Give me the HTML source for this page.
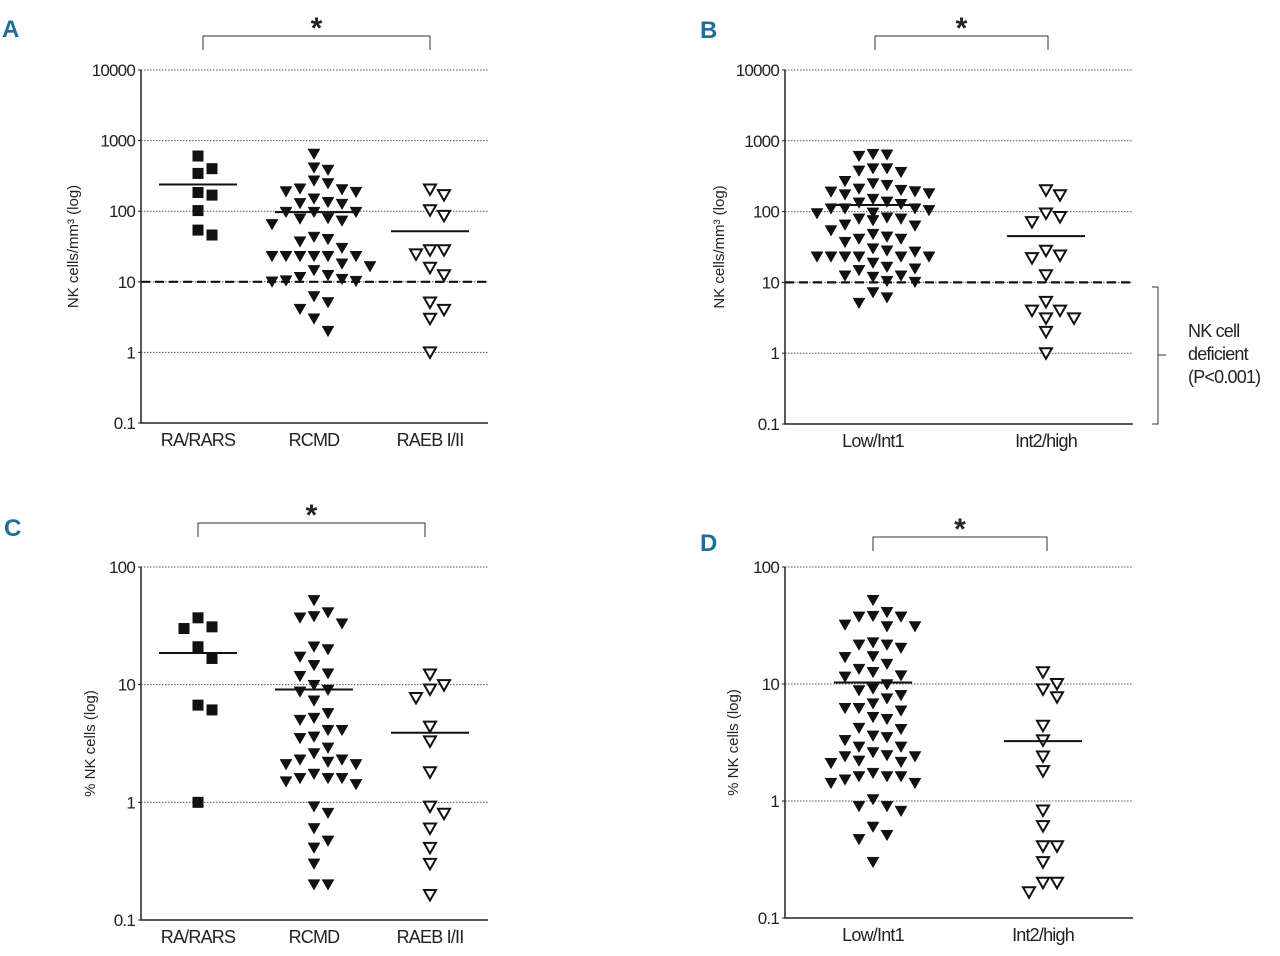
<!DOCTYPE html>
<html><head><meta charset="utf-8"><style>
body{margin:0;background:#fff}
svg{display:block}
text{font-family:"Liberation Sans Narrow","Liberation Sans",sans-serif;fill:#222}
</style></head><body>
<svg id="fig" width="1280" height="956" viewBox="0 0 1280 956"></svg>
<script>
// ---- Data ----
const catsA = ["RA/RARS","RCMD","RAEB I/II"];
const catsB = ["Low/Int1","Int2/high"];
const A_ra = [605,400,343,169,184,102,54,46];
const A_rcmd = [646,383,413,270,247,186,208,203,190,150,134,126,129,97,97,97,78,65,73,79,40,37,43,30,23,23,23,23,23,23,18,16.5,14.5,12.4,11.6,10.9,10.4,10,10.2,6.2,5.1,4.1,3.0,2.0];
const A_raeb = [169,203,103,86,28,24.5,28,15.8,12.4,5.1,4.0,3.0,1.0];
const A_med = [239,97,52];
const B_low = [634,607,647,405,360,376,405,249,236,268,190,174,209,201,192,180,150,137,127,133,110,110,110,96,94,104,82,65,79,75,79,63,54,41,37,44,48,41,28,27,30,23,23,23,23,23,23,14.8,16.5,18.8,15.6,12.4,10.4,10.1,11.9,12.4,7.2,5.1,6.1];
const B_high = [170,200,84,71,94,28,22,24,12.6,5.3,4.0,4.0,3.1,3.1,2.0,1.0];
const B_med = [124,45];
const C_ra = [37,31,30,21,16.7,6.7,6.1,1.0];
const C_rcmd = [52,41,37,38,33,21,17.2,19.9,14.6,12.4,11.8,9.9,8.7,9.0,7.3,5.7,5.0,5.2,4.1,4.1,3.5,3.6,2.9,2.6,2.3,2.2,2.1,2.1,2.3,1.6,1.5,1.74,1.42,1.6,1.6,0.92,0.81,0.60,0.47,0.41,0.30,0.20,0.20];
const C_raeb = [12.2,9.9,9.1,7.7,4.4,3.3,1.8,0.92,0.80,0.60,0.41,0.30,0.163];
const C_med = [18.6,9.1,3.9];
const D_low = [52,37.5,41,37.5,38,32,31,31,21.6,20.3,22.6,21.6,16.9,17.2,14.8,13.4,11.8,11.5,12.6,9.1,8.0,8.8,9.9,7.5,6.8,6.2,5.9,6.2,5.0,5.2,4.1,4.2,3.3,3.5,3.6,2.9,2.9,2.6,2.4,2.2,2.1,2.15,2.4,2.45,1.62,1.62,1.42,1.42,1.52,1.62,1.73,0.90,0.82,0.90,1.03,0.60,0.51,0.47,0.30];
const D_high = [12.6,10,9.0,7.7,4.4,3.3,2.4,1.8,0.83,0.61,0.41,0.41,0.30,0.20,0.20,0.166];
const D_med = [10.3,3.25];
const ticksAB = [10000,1000,100,10,1,0.1];
const ticksCD = [100,10,1,0.1];
const tickLabelsAB = ["10000","1000","100","10","1","0.1"];
const tickLabelsCD = ["100","10","1","0.1"];

const NS="http://www.w3.org/2000/svg";
const svg=document.getElementById('fig');
function mk(tag,attrs,parent){const e=document.createElementNS(NS,tag);for(const k in attrs)e.setAttribute(k,attrs[k]);(parent||svg).appendChild(e);return e;}
function txt(s,attrs,parent){const e=mk('text',attrs,parent);e.textContent=s;return e;}

function panel(cfg){
  const g=mk('g',{});
  
  
  const top=Math.log10(cfg.ticks[0]), bot=Math.log10(cfg.ticks[cfg.ticks.length-1]);
  const y=v=>cfg.y0+(top-Math.log10(v))/(top-bot)*(cfg.y1-cfg.y0);
  cfg.ticks.forEach((t,i)=>{
    const gl=mk('line',{x1:cfg.x0,x2:cfg.x1,y1:y(t),y2:y(t),stroke:'#555','stroke-width':1,'stroke-dasharray':'1.5 1.5'},g);
    if(i===cfg.ticks.length-1) gl.setAttribute('stroke','none');
    
    
    const tl=txt(cfg.tickLabels[i],{x:cfg.x0-6,y:y(t)+6,'text-anchor':'end','font-size':17,'letter-spacing':-0.8},g);
    
    
    mk('line',{x1:cfg.x0-3,x2:cfg.x0,y1:y(t),y2:y(t),stroke:'#222'},g);
  });
  if(cfg.dash){
    const d=mk('line',{x1:cfg.x0,x2:cfg.x1,y1:y(10),y2:y(10),stroke:'#111','stroke-width':2.2,'stroke-dasharray':'9 5'},g);
    
    
  }
  const ax=mk('path',{d:`M${cfg.x0},${cfg.y0}V${cfg.y1}H${cfg.x1}`,fill:'none',stroke:'#222','stroke-width':1.5},g);
  
  
  const yt=txt(cfg.ytitle,{x:0,y:0,'font-size':15,'text-anchor':'middle',transform:`translate(${cfg.ytx},${(cfg.y0+cfg.y1)/2}) rotate(-90)`},g);
  
  
  cfg.series.forEach((s,ci)=>{
    const cx=cfg.cx[ci];
    const xl=txt(cfg.cats[ci],{x:cx,y:cfg.y1+23,'text-anchor':'middle','font-size':18,'letter-spacing':-0.8},g);
    
    
    const placed=[];
    const order=s.vals.map((v,i)=>i).sort((a,b)=>s.vals[b]-s.vals[a]);
    const seq=[0,1,-1,2,-2,3,-3,4,-4];
    order.forEach(i=>{
      const py=y(s.vals[i]);
      let col=0;
      for(const c of seq){ if(!placed.some(p=>p.c===c&&Math.abs(p.y-py)<13)){col=c;break;} }
      placed.push({c:col,y:py});
      const px=cx+col*14;
      let m;
      if(s.shape==='square') m=mk('rect',{x:px-5.5,y:py-5.5,width:11,height:11,fill:'#111'},g);
      else m=mk('path',{d:`M${px-6},${py-5}H${px+6}L${px},${py+5.5}Z`,fill:s.shape==='open'?'#fff':'#111',stroke:'#111','stroke-width':s.shape==='open'?2:0.5},g);
      
      
    });
    const ml=mk('line',{x1:cx-39,x2:cx+39,y1:y(cfg.med[ci]),y2:y(cfg.med[ci]),stroke:'#111','stroke-width':2},g);
    
    
  });
  const b=cfg.br;
  const bp=mk('path',{d:`M${b[0]},${b[2]+14}V${b[2]}H${b[1]}V${b[2]+14}`,fill:'none',stroke:'#333','stroke-width':1},g);
  
  
  const st=txt('*',{x:(b[0]+b[1])/2,y:b[2]+2,'text-anchor':'middle','font-size':30,'font-weight':'bold','font-family':'Liberation Sans'},g);
  
  
  const pl=txt(cfg.letter,{x:cfg.lx,y:cfg.ly,'font-size':24,'font-weight':'bold',style:'fill:#1f6f96'},g);
  
  
}

panel({name:'panel-a',letter:'A',lx:2,ly:37,x0:141,x1:488,y0:70,y1:423,ticks:ticksAB,tickLabels:tickLabelsAB,dash:true,ytitle:'NK cells/mm³ (log)',ytx:78,cats:catsA,cx:[198,314,430],med:A_med,br:[203,430,36],
  series:[{vals:A_ra,shape:'square'},{vals:A_rcmd,shape:'tri'},{vals:A_raeb,shape:'open'}]});
panel({name:'panel-b',letter:'B',lx:700,ly:38,x0:785,x1:1133,y0:70,y1:424,ticks:ticksAB,tickLabels:tickLabelsAB,dash:true,ytitle:'NK cells/mm³ (log)',ytx:724,cats:catsB,cx:[873,1046],med:B_med,br:[875,1048,36],
  series:[{vals:B_low,shape:'tri'},{vals:B_high,shape:'open'}]});
panel({name:'panel-c',letter:'C',lx:4,ly:536,x0:141,x1:488,y0:567,y1:920,ticks:ticksCD,tickLabels:tickLabelsCD,dash:false,ytitle:'% NK cells (log)',ytx:95,cats:catsA,cx:[198,314,430],med:C_med,br:[198,425,523],
  series:[{vals:C_ra,shape:'square'},{vals:C_rcmd,shape:'tri'},{vals:C_raeb,shape:'open'}]});
panel({name:'panel-d',letter:'D',lx:700,ly:551,x0:785,x1:1133,y0:567,y1:918,ticks:ticksCD,tickLabels:tickLabelsCD,dash:false,ytitle:'% NK cells (log)',ytx:738,cats:catsB,cx:[873,1043],med:D_med,br:[873,1047,537],
  series:[{vals:D_low,shape:'tri'},{vals:D_high,shape:'open'}]});

const nb=mk('path',{d:'M1152,287H1158V424H1152M1158,355H1166',fill:'none',stroke:'#333','stroke-width':1});


[['NK cell',337],['deficient',360],['(P<0.001)',383]].forEach(([s,yy])=>{
  const t=txt(s,{x:1188,y:yy,'font-size':18,'letter-spacing':-0.8});
  
  
});
</script>
</body></html>
